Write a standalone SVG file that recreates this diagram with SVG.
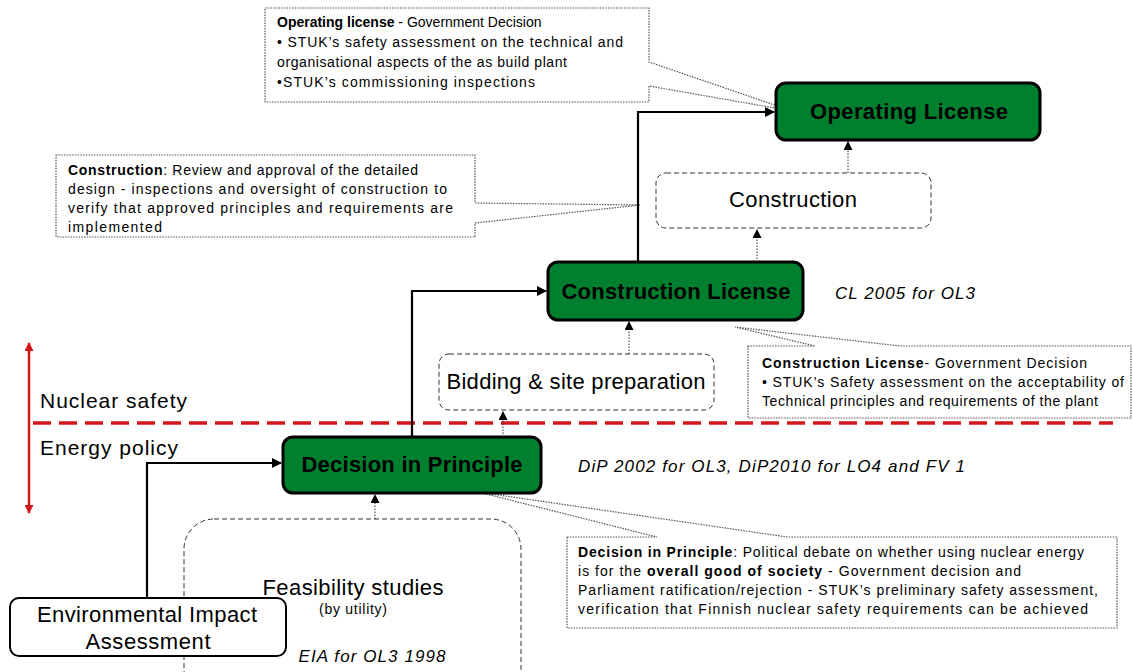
<svg xmlns="http://www.w3.org/2000/svg" width="1133" height="672" viewBox="0 0 1133 672">
  <style>
    text { font-family: "Liberation Sans", Arial, sans-serif; fill: #000; }
    .node-green { fill: #00802f; stroke: #000; stroke-width: 3; }
    .node-dash { fill: #fff; stroke: #333; stroke-width: 1; stroke-dasharray: 5 3; }
    .node-plain { fill: #fff; stroke: #000; stroke-width: 2; }
    .callout { fill: #fff; stroke: #555; stroke-width: 1.2; stroke-dasharray: 1.5 1.2; }
    .title { font-size: 22px; font-weight: bold; text-anchor: middle; }
    .label { font-size: 22px; text-anchor: middle; }
    .note { font-size: 17px; font-style: italic; }
    .call { font-size: 14px; }
    .solid { fill: none; stroke: #000; stroke-width: 2.2; }
    .dotted { fill: none; stroke: #333; stroke-width: 1; stroke-dasharray: 1.5 1.5; }
    .red { stroke: #d0191c; fill: none; }
  </style>
  <defs>
    <marker id="arrow" viewBox="0 0 10 10" refX="9" refY="5" markerWidth="11" markerHeight="10" markerUnits="userSpaceOnUse" orient="auto">
      <path d="M0,0 L10,5 L0,10 Z" fill="#000"/>
    </marker>
    <marker id="arrow-small" viewBox="0 0 10 10" refX="9" refY="5" markerWidth="10" markerHeight="9" markerUnits="userSpaceOnUse" orient="auto">
      <path d="M0,0 L10,5 L0,10 Z" fill="#000"/>
    </marker>
    <marker id="arrow-red" viewBox="0 0 10 10" refX="9" refY="5" markerWidth="12" markerHeight="9" markerUnits="userSpaceOnUse" orient="auto">
      <path d="M0,0 L10,5 L0,10 Z" fill="#d0191c"/>
    </marker>
  </defs>

  <!-- policy / safety boundary -->
  <g id="boundary">
    <line class="red" x1="29" y1="353" x2="29" y2="343" stroke-width="2.5" marker-end="url(#arrow-red)"/>
    <line class="red" x1="29" y1="347" x2="29" y2="513" stroke-width="2.5" marker-end="url(#arrow-red)"/>
    <line class="red" x1="33" y1="423" x2="1113" y2="423" stroke-width="3.5" stroke-dasharray="18 8"/>
    <text x="40" y="408" font-size="21" textLength="147" lengthAdjust="spacing">Nuclear safety</text>
    <text x="40" y="455" font-size="21" textLength="138" lengthAdjust="spacing">Energy policy</text>
  </g>

  <!-- callouts -->
  <g id="callout-operating">
    <path class="callout" d="M265,8 H649 V62 L792,111 L649,86 V102 H265 Z"/>
    <text class="call" x="277" y="27"><tspan font-weight="bold">Operating license</tspan> - Government Decision</text>
    <text class="call" x="277" y="47" textLength="346" lengthAdjust="spacing">• STUK’s safety assessment on the technical and</text>
    <text class="call" x="277" y="67" textLength="290" lengthAdjust="spacing">organisational aspects of the as build plant</text>
    <text class="call" x="277" y="87" textLength="258" lengthAdjust="spacing">•STUK’s commissioning inspections</text>
  </g>

  <g id="callout-construction">
    <path class="callout" d="M56,155 H475 V203 L640,205 L475,223 V237 H56 Z"/>
    <text class="call" x="68" y="175" textLength="350" lengthAdjust="spacing"><tspan font-weight="bold">Construction</tspan>:  Review and approval of the detailed</text>
    <text class="call" x="68" y="194" textLength="379" lengthAdjust="spacing">design - inspections and oversight of construction to</text>
    <text class="call" x="68" y="213" textLength="385" lengthAdjust="spacing">verify that approved principles and requirements are</text>
    <text class="call" x="68" y="232" textLength="94" lengthAdjust="spacing">implemented</text>
  </g>

  <g id="callout-construction-license">
    <path class="callout" d="M748,346 H815 L735,327 L900,346 H1131 V418 H748 Z"/>
    <text class="call" x="762" y="368" textLength="325" lengthAdjust="spacing"><tspan font-weight="bold">Construction  License</tspan>- Government Decision</text>
    <text class="call" x="762" y="387" textLength="362" lengthAdjust="spacing">• STUK’s Safety assessment on the acceptability of</text>
    <text class="call" x="762" y="406" textLength="336" lengthAdjust="spacing">Technical principles and requirements of the plant</text>
  </g>

  <g id="callout-decision">
    <path class="callout" d="M567,537 H657 L478,492 L787,537 H1117 V628 H567 Z"/>
    <text class="call" x="578" y="557" textLength="506" lengthAdjust="spacing"><tspan font-weight="bold">Decision in Principle</tspan>: Political debate on whether using nuclear energy</text>
    <text class="call" x="578" y="576" textLength="443" lengthAdjust="spacing">is for the <tspan font-weight="bold">overall good of society</tspan>  - Government decision and</text>
    <text class="call" x="578" y="595" textLength="520" lengthAdjust="spacing">Parliament ratification/rejection - STUK’s preliminary safety assessment,</text>
    <text class="call" x="578" y="614" textLength="510" lengthAdjust="spacing">verification that Finnish nuclear safety requirements can be achieved</text>
  </g>

  <!-- nodes -->
  <g id="feasibility">
    <rect class="node-dash" x="184" y="519" width="337" height="180" rx="30" ry="30"/>
    <text class="label" x="353" y="595" textLength="181" lengthAdjust="spacing">Feasibility studies</text>
    <text x="353" y="614" font-size="14" text-anchor="middle" textLength="68" lengthAdjust="spacing">(by utility)</text>
    <text class="note" x="372" y="662" text-anchor="middle" textLength="147" lengthAdjust="spacing">EIA for OL3 1998</text>
  </g>

  <g id="eia">
    <rect class="node-plain" x="10" y="598" width="276" height="58" rx="9" ry="9"/>
    <text class="label" x="147" y="622" textLength="220" lengthAdjust="spacing">Environmental Impact</text>
    <text class="label" x="148" y="649" textLength="125" lengthAdjust="spacing">Assessment</text>
  </g>

  <g id="decision-in-principle">
    <rect class="node-green" x="283" y="437" width="258" height="56" rx="10" ry="10"/>
    <text class="title" x="412" y="472" textLength="221" lengthAdjust="spacing">Decision in Principle</text>
    <text class="note" x="578" y="472" textLength="387" lengthAdjust="spacing">DiP 2002 for OL3, DiP2010 for LO4 and FV 1</text>
  </g>

  <g id="bidding">
    <rect class="node-dash" x="439" y="354" width="275" height="56" rx="10" ry="10"/>
    <text class="label" x="576" y="389" textLength="259" lengthAdjust="spacing">Bidding &amp; site preparation</text>
  </g>

  <g id="construction-license">
    <rect class="node-green" x="548" y="262" width="255" height="58" rx="10" ry="10"/>
    <text class="title" x="676" y="299" textLength="229" lengthAdjust="spacing">Construction License</text>
    <text class="note" x="835" y="299" textLength="140" lengthAdjust="spacing">CL 2005 for OL3</text>
  </g>

  <g id="construction">
    <rect class="node-dash" x="656" y="173" width="275" height="55" rx="10" ry="10"/>
    <text class="label" x="793" y="207" textLength="128" lengthAdjust="spacing">Construction</text>
  </g>

  <g id="operating-license">
    <rect class="node-green" x="776" y="83" width="264" height="57" rx="10" ry="10"/>
    <text class="title" x="909" y="119" textLength="198" lengthAdjust="spacing">Operating License</text>
  </g>

  <!-- connectors -->
  <g id="connectors">
    <path class="solid" d="M147,598 V463 H281" marker-end="url(#arrow)"/>
    <path class="solid" d="M412,437 V291 H546" marker-end="url(#arrow)"/>
    <path class="solid" d="M638,262 V112 H774" marker-end="url(#arrow)"/>
    <path class="dotted" d="M375,519 V495" marker-end="url(#arrow-small)"/>
    <path class="dotted" d="M503,437 V412" marker-end="url(#arrow-small)"/>
    <path class="dotted" d="M629,354 V322" marker-end="url(#arrow-small)"/>
    <path class="dotted" d="M757,262 V230" marker-end="url(#arrow-small)"/>
    <path class="dotted" d="M848,173 V142" marker-end="url(#arrow-small)"/>
  </g>
</svg>
